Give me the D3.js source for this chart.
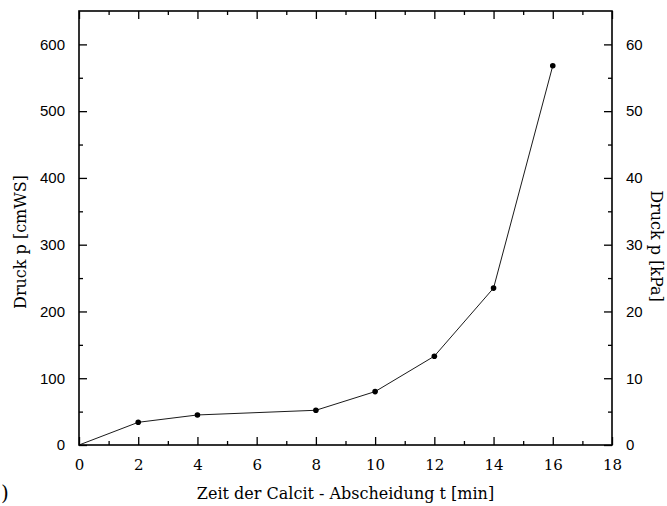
<!DOCTYPE html>
<html>
<head>
<meta charset="utf-8">
<script src="https://cdn.jsdelivr.net/npm/d3@7"></script>
<style>
  body { margin: 0; background: #fff; }
  svg { display: block; }
</style>
</head>
<body>
<div id="chart"></div>
<script>
// data
var zeit = [0, 2, 4, 8, 10, 12, 14, 16];          // min
var druck = [0, 34, 45, 52, 80, 133, 235, 568];   // cmWS
var xTicks = [0, 2, 4, 6, 8, 10, 12, 14, 16, 18];
var yTicksLeft = [0, 100, 200, 300, 400, 500, 600];
var yTicksRight = [0, 10, 20, 30, 40, 50, 60];

var width = 667, height = 506;
var margin = {left: 79, right: 55, top: 11, bottom: 61};
var serif = "'DejaVu Serif', serif",
    sans = "'Liberation Sans', Arial, sans-serif";

var svg = d3.select("#chart").append("svg")
  .attr("width", width)
  .attr("height", height);

var x = d3.scaleLinear().domain([0, 18]).range([margin.left, width - margin.right]);
var y = d3.scaleLinear().domain([0, 650]).range([height - margin.bottom, margin.top]);
var y2 = d3.scaleLinear().domain([0, 65]).range([height - margin.bottom, margin.top]);

var x0 = margin.left, x1 = width - margin.right,
    yb = height - margin.bottom, yt = margin.top;

// ticks pointing inward
function styleAxis(g, font, size) {
  g.select(".domain").remove();
  g.selectAll("line").attr("stroke", "#000").attr("stroke-width", 1.3);
  g.selectAll("text").style("font-family", font).style("font-size", size).attr("fill", "#000");
}

var minorX = d3.range(1, 18, 2);
var minorY = d3.range(50, 650, 100);

// bottom
svg.append("g").attr("transform", "translate(0," + yb + ")")
  .call(d3.axisBottom(x).tickValues(minorX).tickSize(-4).tickFormat(""))
  .call(styleAxis, serif, "15px");
svg.append("g").attr("transform", "translate(0," + yb + ")")
  .call(d3.axisBottom(x).tickValues(xTicks).tickSize(-8).tickPadding(14).tickFormat(d3.format("d")))
  .call(styleAxis, serif, "15px");
// top
svg.append("g").attr("transform", "translate(0," + yt + ")")
  .call(d3.axisTop(x).tickValues(minorX).tickSize(-4).tickFormat(""))
  .call(styleAxis, serif, "15px");
svg.append("g").attr("transform", "translate(0," + yt + ")")
  .call(d3.axisTop(x).tickValues(xTicks).tickSize(-8).tickFormat(""))
  .call(styleAxis, serif, "15px");
// left
svg.append("g").attr("transform", "translate(" + x0 + ",0)")
  .call(d3.axisLeft(y).tickValues(minorY).tickSize(-4).tickFormat(""))
  .call(styleAxis, sans, "15px");
svg.append("g").attr("transform", "translate(" + x0 + ",0)")
  .call(d3.axisLeft(y).tickValues(yTicksLeft).tickSize(-8).tickPadding(14).tickFormat(d3.format("d")))
  .call(styleAxis, sans, "15px");
// right
svg.append("g").attr("transform", "translate(" + x1 + ",0)")
  .call(d3.axisRight(y2).tickValues(d3.range(5, 65, 10)).tickSize(-4).tickFormat(""))
  .call(styleAxis, sans, "15px");
svg.append("g").attr("transform", "translate(" + x1 + ",0)")
  .call(d3.axisRight(y2).tickValues(yTicksRight).tickSize(-8).tickPadding(14).tickFormat(d3.format("d")))
  .call(styleAxis, sans, "15px");

// frame
svg.append("rect")
  .attr("x", x0).attr("y", yt)
  .attr("width", x1 - x0).attr("height", yb - yt)
  .attr("fill", "none").attr("stroke", "#000").attr("stroke-width", 1.6);

var pts = zeit.map(function(d, i) { return [d, druck[i]]; });

svg.append("path")
  .datum(pts)
  .attr("fill", "none")
  .attr("stroke", "#000")
  .attr("stroke-width", 0.9)
  .attr("d", d3.line().x(function(d) { return x(d[0]); }).y(function(d) { return y(d[1]); }));

svg.selectAll(".pt")
  .data(pts.slice(1))
  .enter().append("circle")
  .attr("class", "pt")
  .attr("cx", function(d) { return x(d[0]); })
  .attr("cy", function(d) { return y(d[1]); })
  .attr("r", 2.8)
  .attr("fill", "#000");

// axis titles
svg.append("text")
  .attr("x", (x0 + x1) / 2).attr("y", 499)
  .attr("text-anchor", "middle")
  .style("font-family", serif).style("font-size", "16px")
  .text("Zeit der Calcit - Abscheidung t [min]");

svg.append("text")
  .attr("transform", "translate(26,242) rotate(-90)")
  .attr("text-anchor", "middle")
  .style("font-family", serif).style("font-size", "16px")
  .text("Druck p [cmWS]");

svg.append("text")
  .attr("transform", "translate(651,246) rotate(90)")
  .attr("text-anchor", "middle")
  .style("font-family", serif).style("font-size", "16px")
  .text("Druck p [kPa]");

svg.append("text")
  .attr("x", 1).attr("y", 500)
  .style("font-family", serif).style("font-size", "20px")
  .text(")");
</script>
</body>
</html>
